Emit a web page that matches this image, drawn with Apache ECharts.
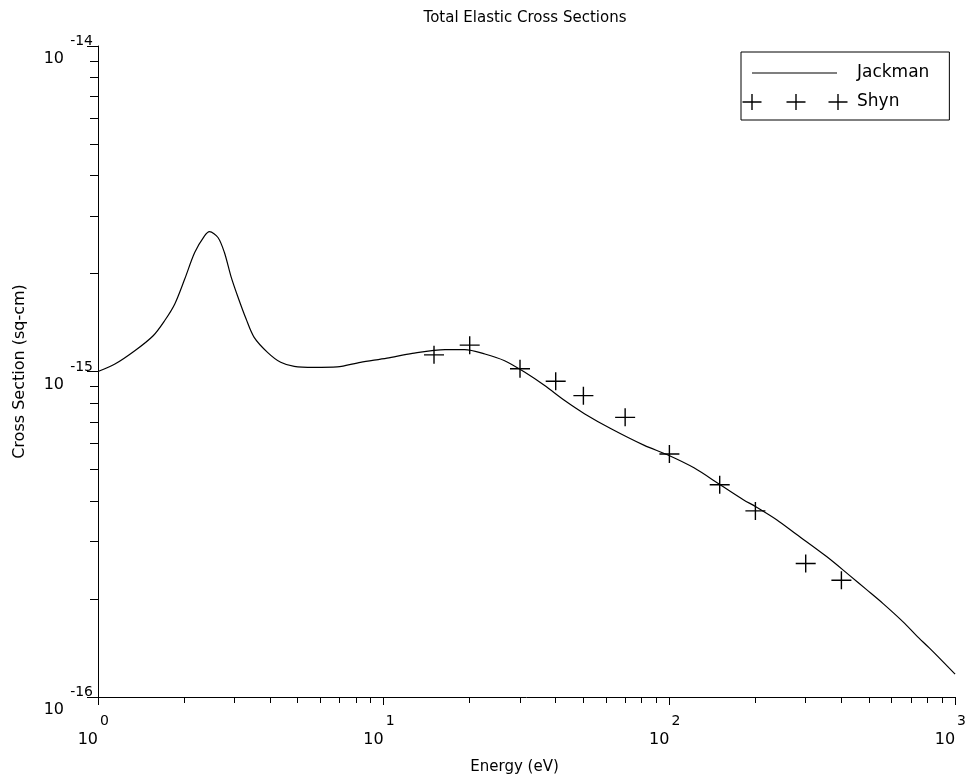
<!DOCTYPE html>
<html><head><meta charset="utf-8">
<script src="https://cdn.jsdelivr.net/npm/echarts@6/dist/echarts.min.js"></script>
<style>html,body{margin:0;padding:0;background:#fff}#c{width:969px;height:780px}</style>
</head><body><div id="c"></div>
<script>
const jackmanEnergy = [1.0,1.146,1.345,1.56,1.71,1.855,2.01,2.18,2.36,2.456,2.63,2.77,2.92,3.08,3.30,3.52,3.92,4.36,4.86,5.70,6.87,8.29,10.27,12.6,16.4,19.2,22.6,26.5,31.2,36.6,43.0,50.4,62.5,81.7,98.4,121.9,151,182,200,238,279,355,427,490,561,659,731,812,901,1000];
const jackmanSigma = [1.00e-15,1.054e-15,1.158e-15,1.288e-15,1.432e-15,1.61e-15,1.92e-15,2.32e-15,2.61e-15,2.69e-15,2.58e-15,2.32e-15,1.96e-15,1.706e-15,1.449e-15,1.273e-15,1.145e-15,1.067e-15,1.037e-15,1.030e-15,1.033e-15,1.067e-15,1.099e-15,1.137e-15,1.167e-15,1.167e-15,1.132e-15,1.079e-15,0.994e-15,0.905e-15,0.814e-15,0.742e-15,0.667e-15,0.593e-15,0.555e-15,0.506e-15,0.448e-15,0.403e-15,0.385e-15,0.350e-15,0.3156e-15,0.270e-15,0.2364e-15,0.2137e-15,0.1933e-15,0.1699e-15,0.1547e-15,0.1415e-15,0.1291e-15,0.1175e-15];
const shynEnergy = [15,20,30,40,50,70,100,150,200,300,400];
const shynSigma = [1.125e-15,1.205e-15,1.02e-15,0.933e-15,0.843e-15,0.723e-15,0.558e-15,0.449e-15,0.373e-15,0.257e-15,0.2285e-15];
const xDecades = [1,10,100,1000];
const yDecades = [1e-16,1e-15,1e-14];
const seriesNames = ['Jackman','Shyn'];
const titleText = 'Total Elastic Cross Sections';
const xName = 'Energy (eV)';
const yName = 'Cross Section (sq-cm)';

function minorOf(decades){
  const out=[];
  for(let i=0;i<decades.length-1;i++){for(let k=2;k<=9;k++){out.push(+(decades[i]*k).toPrecision(6));}}
  return out;
}
const xMinor = minorOf(xDecades);
const yMinor = minorOf(yDecades);
const expOf = v => String(Math.round(Math.log10(v)));
const FONT = "'DejaVu Sans',sans-serif";
const BLACK = '#000';

const jackData = jackmanEnergy.map((e,i)=>[e,jackmanSigma[i]]);
const shynData = shynEnergy.map((e,i)=>[e,shynSigma[i]]);

const pad = 'M0,0h0.01v0.01h-0.01z M105.99,17.99h0.01v0.01h-0.01z ';
const lineIcon = 'path://' + pad + 'M10,8.5h85v1h-85z';
let plusIcon = 'path://' + pad;
[10,54,96].forEach(c=>{ plusIcon += `M${c-9.5},8.3h19v1.4h-19z M${c-0.7},1h1.4v16h-1.4z `; });

const chart = echarts.init(document.getElementById('c'), null, {renderer:'canvas'});
const baseX = {type:'log', logBase:10, min:1, max:1000, position:'bottom',
  splitLine:{show:false}, minorTick:{show:false}};
const baseY = {type:'log', logBase:10, min:1e-16, max:1e-14, position:'left',
  splitLine:{show:false}, minorTick:{show:false}};
chart.setOption({
  animation:false,
  backgroundColor:'#fff',
  title:{text:titleText, left:520, top:6, textAlign:'center',
    textStyle:{fontFamily:FONT, fontSize:15, fontWeight:'normal', color:BLACK}},
  grid:{left:98, right:10, top:46, bottom:81, containLabel:false},
  legend:{left:741, top:52, orient:'vertical', itemWidth:106, itemHeight:18, itemGap:11,
    padding:[12,20,9,1], borderColor:BLACK, borderWidth:1, borderRadius:0, backgroundColor:'#fff',
    textStyle:{fontFamily:FONT, fontSize:17, color:BLACK, padding:[0,0,0,4]},
    data:[{name:seriesNames[0], icon:lineIcon, itemStyle:{color:BLACK}},
          {name:seriesNames[1], icon:plusIcon, itemStyle:{color:BLACK}}]},
  xAxis:[
    Object.assign({}, baseX, {
      axisLine:{show:true, lineStyle:{color:BLACK, width:1}},
      axisTick:{show:true, length:8, customValues:xDecades, lineStyle:{color:BLACK}},
      axisLabel:{show:true, customValues:xDecades, formatter:()=> '10', align:'right', margin:35,
        fontFamily:FONT, fontSize:16, color:BLACK},
      name:xName, nameLocation:'middle', nameGap:63,
      nameTextStyle:{fontFamily:FONT, fontSize:15, color:BLACK, padding:[0,24,0,0]}
    }),
    Object.assign({}, baseX, {
      axisLine:{show:false},
      axisTick:{show:true, length:6, customValues:xMinor, lineStyle:{color:BLACK, width:1}},
      axisLabel:{show:true, customValues:xDecades, formatter:v=>expOf(v), align:'left', margin:17,
        padding:[0,0,0,2], fontFamily:FONT, fontSize:14, color:BLACK}
    })
  ],
  yAxis:[
    Object.assign({}, baseY, {
      axisLine:{show:true, lineStyle:{color:BLACK, width:1}},
      axisTick:{show:true, length:11, customValues:yDecades, lineStyle:{color:BLACK}},
      axisLabel:{show:true, customValues:yDecades, formatter:()=> '10', align:'right', verticalAlign:'top',
        margin:34, padding:[5,0,0,0], fontFamily:FONT, fontSize:16, color:BLACK},
      name:yName, nameLocation:'middle', nameGap:70, nameRotate:90,
      nameTextStyle:{fontFamily:FONT, fontSize:16, color:BLACK}
    }),
    Object.assign({}, baseY, {
      axisLine:{show:false},
      axisTick:{show:true, length:8, customValues:yMinor, lineStyle:{color:BLACK}},
      axisLabel:{show:true, customValues:yDecades, formatter:v=>expOf(v), align:'right', verticalAlign:'bottom',
        lineHeight:9, margin:5, fontFamily:FONT, fontSize:14, color:BLACK}
    })
  ],
  series:[
    {name:seriesNames[0], type:'line', xAxisIndex:0, yAxisIndex:0, data:jackData,
      symbol:'none', smooth:0.3, lineStyle:{color:BLACK, width:1.2}, itemStyle:{color:BLACK}, z:2},
    {name:seriesNames[1], type:'scatter', xAxisIndex:0, yAxisIndex:0, data:shynData,
      symbol:'path://M0,8.3h20v1.4h-20z M9.3,0h1.4v18h-1.4z', symbolSize:[20,18],
      itemStyle:{color:BLACK, opacity:1}, z:3}
  ]
});
</script></body></html>
